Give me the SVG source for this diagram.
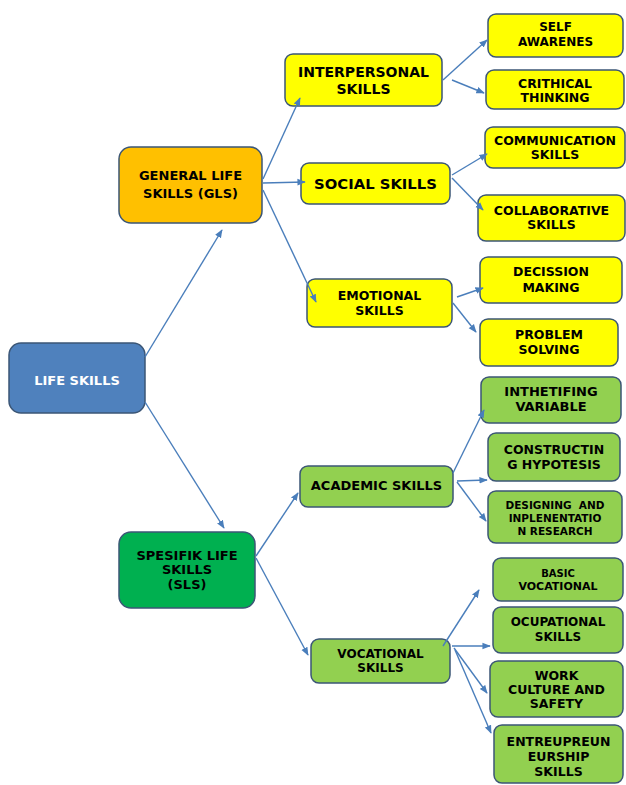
<svg xmlns="http://www.w3.org/2000/svg" width="626" height="785" viewBox="0 0 626 785">
<defs>
<marker id="ah" viewBox="0 0 10 10" refX="9" refY="5" markerWidth="6" markerHeight="6" orient="auto" markerUnits="strokeWidth">
<path d="M0,1 L10,5 L0,9 z" fill="#4a7ebb"/>
</marker>
<style>
rect{stroke:#3b5676;stroke-width:1.5}
.y{fill:#ffff00}.g{fill:#92d050}
text{font-family:"DejaVu Sans","Liberation Sans",sans-serif;font-weight:bold;text-anchor:middle;fill:#000}
#connectors line{stroke:#4a7ebb;stroke-width:1.4;marker-end:url(#ah)}
</style>
</defs>
<rect x="0" y="0" width="626" height="785" style="fill:#fff;stroke:none"/>
<g id="life-skills"><rect x="9" y="343" width="136" height="70" rx="12" style="fill:#4f81bd"/><text x="77" y="385" font-size="13" style="fill:#fff">LIFE SKILLS</text></g>
<g id="gls"><rect x="119" y="147" width="143" height="76" rx="12" style="fill:#ffc000"/><text x="190.5" y="180" font-size="13">GENERAL LIFE</text><text x="190.5" y="198" font-size="13">SKILLS (GLS)</text></g>
<g id="interpersonal"><rect class="y" x="285" y="54" width="157" height="52" rx="8"/><text x="363.5" y="77" font-size="14">INTERPERSONAL</text><text x="363.5" y="94" font-size="14">SKILLS</text></g>
<g id="social"><rect class="y" x="301" y="163" width="149" height="41" rx="8"/><text x="375.5" y="188.5" font-size="14.8">SOCIAL SKILLS</text></g>
<g id="emotional"><rect class="y" x="307" y="279" width="145" height="48" rx="8"/><text x="379.5" y="299.5" font-size="12.5">EMOTIONAL</text><text x="379.5" y="314.5" font-size="12.5">SKILLS</text></g>
<g id="self"><rect class="y" x="488" y="14" width="135" height="43" rx="8"/><text x="555.5" y="31" font-size="12">SELF</text><text x="555.5" y="46" font-size="12">AWARENES</text></g>
<g id="crithical"><rect class="y" x="486" y="70" width="138" height="39" rx="8"/><text x="555" y="87.5" font-size="12.5">CRITHICAL</text><text x="555" y="101.5" font-size="12.5">THINKING</text></g>
<g id="communication"><rect class="y" x="485" y="127" width="140" height="41" rx="8"/><text x="555" y="144.5" font-size="12.5">COMMUNICATION</text><text x="555" y="158.5" font-size="12.5">SKILLS</text></g>
<g id="collaborative"><rect class="y" x="478" y="195" width="147" height="46" rx="8"/><text x="551.5" y="214.5" font-size="12.5">COLLABORATIVE</text><text x="551.5" y="228.5" font-size="12.5">SKILLS</text></g>
<g id="decission"><rect class="y" x="480" y="257" width="142" height="46" rx="8"/><text x="551" y="275.5" font-size="12.5">DECISSION</text><text x="551" y="291.5" font-size="12.5">MAKING</text></g>
<g id="problem"><rect class="y" x="480" y="319" width="138" height="47" rx="8"/><text x="549" y="338.5" font-size="12.5">PROBLEM</text><text x="549" y="353.5" font-size="12.5">SOLVING</text></g>
<g id="sls"><rect x="119" y="532" width="136" height="76" rx="12" style="fill:#00b050"/><text x="187" y="559.5" font-size="13">SPESIFIK LIFE</text><text x="187" y="573.5" font-size="13">SKILLS</text><text x="187" y="588.5" font-size="13">(SLS)</text></g>
<g id="academic"><rect class="g" x="300" y="466" width="153" height="41" rx="8"/><text x="376.5" y="489.5" font-size="13">ACADEMIC SKILLS</text></g>
<g id="vocational"><rect class="g" x="311" y="639" width="139" height="44" rx="8"/><text x="380.5" y="657.5" font-size="12">VOCATIONAL</text><text x="380.5" y="671.5" font-size="12">SKILLS</text></g>
<g id="inthetifing"><rect class="g" x="481" y="377" width="140" height="46" rx="8"/><text x="551" y="395.5" font-size="13">INTHETIFING</text><text x="551" y="410.5" font-size="13">VARIABLE</text></g>
<g id="constructing"><rect class="g" x="488" y="433" width="132" height="48" rx="8"/><text x="554" y="453.5" font-size="12.5">CONSTRUCTIN</text><text x="554" y="468.5" font-size="12.5">G HYPOTESIS</text></g>
<g id="designing"><rect class="g" x="488" y="491" width="134" height="52" rx="8"/><text x="555" y="509" font-size="10.5" xml:space="preserve">DESIGNING  AND</text><text x="555" y="522" font-size="10.5">INPLENENTATIO</text><text x="555" y="535" font-size="10.5">N RESEARCH</text></g>
<g id="basic"><rect class="g" x="493" y="558" width="130" height="43" rx="8"/><text x="558" y="577" font-size="10">BASIC</text><text x="558" y="590" font-size="11">VOCATIONAL</text></g>
<g id="ocupational"><rect class="g" x="493" y="607" width="130" height="46" rx="8"/><text x="558" y="625.5" font-size="12">OCUPATIONAL</text><text x="558" y="640.5" font-size="12">SKILLS</text></g>
<g id="work"><rect class="g" x="490" y="661" width="133" height="56" rx="8"/><text x="556.5" y="679.5" font-size="12.5">WORK</text><text x="556.5" y="693.5" font-size="12.5">CULTURE AND</text><text x="556.5" y="707.5" font-size="12.5">SAFETY</text></g>
<g id="entreupreuneurship"><rect class="g" x="494" y="725" width="129" height="58" rx="8"/><text x="558.5" y="745.5" font-size="12.5">ENTREUPREUN</text><text x="558.5" y="760.5" font-size="12.5">EURSHIP</text><text x="558.5" y="775.5" font-size="12.5">SKILLS</text></g>
<g id="connectors">
<line x1="145" y1="357" x2="222" y2="230"/>
<line x1="145" y1="402" x2="224" y2="528"/>
<line x1="263" y1="179" x2="300" y2="98"/>
<line x1="263" y1="183" x2="305" y2="182"/>
<line x1="263" y1="190" x2="316" y2="302"/>
<line x1="443" y1="80" x2="487" y2="40"/>
<line x1="452" y1="80" x2="484" y2="93"/>
<line x1="452" y1="175" x2="487" y2="154"/>
<line x1="452" y1="178" x2="483" y2="210"/>
<line x1="457" y1="297" x2="483" y2="288"/>
<line x1="453" y1="303" x2="476" y2="332"/>
<line x1="256" y1="556" x2="298" y2="493"/>
<line x1="256" y1="558" x2="308" y2="655"/>
<line x1="453" y1="473" x2="484" y2="410"/>
<line x1="457" y1="481" x2="487" y2="480"/>
<line x1="457" y1="482" x2="486" y2="521"/>
<line x1="443" y1="646" x2="479" y2="590"/>
<line x1="452" y1="646" x2="490" y2="646"/>
<line x1="454" y1="648" x2="487" y2="693"/>
<line x1="455" y1="650" x2="491" y2="733"/>
</g>
</svg>
